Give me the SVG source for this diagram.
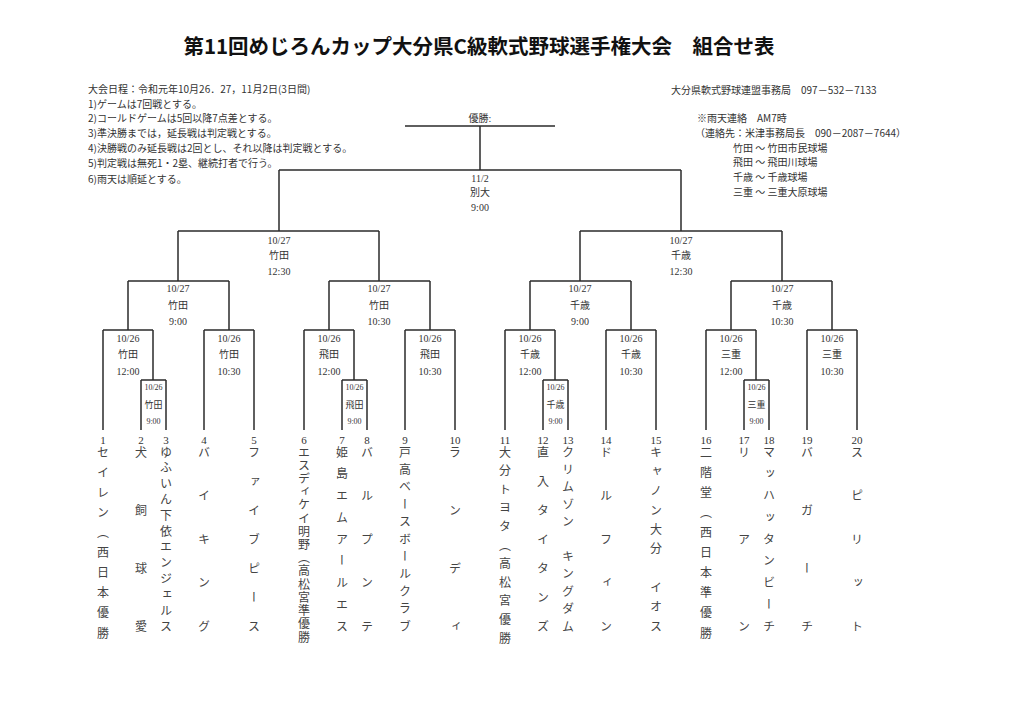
<svg xmlns="http://www.w3.org/2000/svg" width="1024" height="724" viewBox="0 0 1024 724">
<style>
.ln{stroke:#2b2b2b;stroke-width:1.5;fill:none}
.lb{font-family:"Liberation Serif","Noto Sans CJK JP",serif;font-size:10px;fill:#333;text-anchor:middle}
.ls{font-size:8px}
.lv{font-size:9px}
.nt{font-family:"Noto Sans CJK JP",sans-serif;font-size:10px;fill:#333}
.num{font-family:"Liberation Serif",serif;font-size:11px;fill:#333;text-anchor:middle}
.tm{font-family:"Noto Sans CJK JP",sans-serif;font-size:12px;fill:#444;writing-mode:vertical-rl;text-anchor:middle}
.ttl{font-family:"Noto Sans CJK JP",sans-serif;font-size:20.5px;font-weight:700;fill:#111;text-anchor:middle}
</style>
<rect width="1024" height="724" fill="#fff"/>
<g id="title"><text class="ttl" x="479" y="54">第11回めじろんカップ大分県C級軟式野球選手権大会　組合せ表</text></g>
<g id="notes-left" class="nt">
<text x="88" y="93">大会日程：令和元年10月26．27，11月2日(3日間)</text>
<text x="88" y="108">1)ゲームは7回戦とする。</text>
<text x="88" y="122">2)コールドゲームは5回以降7点差とする。</text>
<text x="88" y="137">3)準決勝までは，延長戦は判定戦とする。</text>
<text x="88" y="152">4)決勝戦のみ延長戦は2回とし、それ以降は判定戦とする。</text>
<text x="88" y="167">5)判定戦は無死1・2塁、継続打者で行う。</text>
<text x="88" y="183">6)雨天は順延とする。</text>
</g>
<g id="notes-right" class="nt">
<text x="671" y="94">大分県軟式野球連盟事務局　097－532－7133</text>
<text x="697" y="122">※雨天連絡　AM7時</text>
<text x="695" y="137">（連絡先：米津事務局長　090－2087－7644）</text>
<text x="733" y="152">竹田 ～ 竹田市民球場</text>
<text x="733" y="166">飛田 ～ 飛田川球場</text>
<text x="733" y="181">千歳 ～ 千歳球場</text>
<text x="733" y="196">三重 ～ 三重大原球場</text>
</g>
<g id="connectors" class="ln">
<path d="M405,126H555M480,126V170M279,170H681M279,170V231M681,170V231"/>
<path d="M178,231H379M580,231H782M178,231V281M379,231V281M580,231V281M782,231V281"/>
<path d="M128,281H229M329,281H430M530,281H631M731,281H832"/>
<path d="M128,281V330M229,281V330M329,281V330M430,281V330M530,281V330M631,281V330M731,281V330M832,281V330"/>
<path d="M103,330H153M204,330H254M304,330H354M405,330H455M505,330H555M606,330H656M706,330H756M807,330H857"/>
<path d="M103,330V430M204,330V430M254,330V430M304,330V430M405,330V430M455,330V430M505,330V430M606,330V430M656,330V430M706,330V430M807,330V430M857,330V430"/>
<path d="M153,330V380M354,330V380M555,330V380M756,330V380"/>
<path d="M141,380H166M342,380H367M543,380H568M744,380H769"/>
<path d="M141,380V430M166,380V430M342,380V430M367,380V430M543,380V430M568,380V430M744,380V430M769,380V430"/>
</g>
<g id="winner"><text class="lb" x="480" y="122">優勝:</text></g>
<g id="m-final" class="lb"><text x="480" y="181.5">11/2</text><text x="480" y="196">別大</text><text x="480" y="211">9:00</text></g>
<g id="m-sf1" class="lb"><text x="279" y="243.5">10/27</text><text x="279" y="259">竹田</text><text x="279" y="275">12:30</text></g>
<g id="m-sf2" class="lb"><text x="681" y="243.5">10/27</text><text x="681" y="259">千歳</text><text x="681" y="275">12:30</text></g>
<g id="m-qf1" class="lb"><text x="178" y="291.5">10/27</text><text x="178" y="308.5">竹田</text><text x="178" y="324.5">9:00</text></g>
<g id="m-qf2" class="lb"><text x="379" y="291.5">10/27</text><text x="379" y="308.5">竹田</text><text x="379" y="324.5">10:30</text></g>
<g id="m-qf3" class="lb"><text x="580" y="291.5">10/27</text><text x="580" y="308.5">千歳</text><text x="580" y="324.5">9:00</text></g>
<g id="m-qf4" class="lb"><text x="782" y="291.5">10/27</text><text x="782" y="308.5">千歳</text><text x="782" y="324.5">10:30</text></g>
<g id="m-r2-1" class="lb"><text x="128" y="341.5">10/26</text><text x="128" y="357.5">竹田</text><text x="128" y="374.5">12:00</text></g>
<g id="m-r2-2" class="lb"><text x="229" y="341.5">10/26</text><text x="229" y="357.5">竹田</text><text x="229" y="374.5">10:30</text></g>
<g id="m-r2-3" class="lb"><text x="329" y="341.5">10/26</text><text x="329" y="357.5">飛田</text><text x="329" y="374.5">12:00</text></g>
<g id="m-r2-4" class="lb"><text x="430" y="341.5">10/26</text><text x="430" y="357.5">飛田</text><text x="430" y="374.5">10:30</text></g>
<g id="m-r2-5" class="lb"><text x="530" y="341.5">10/26</text><text x="530" y="357.5">千歳</text><text x="530" y="374.5">12:00</text></g>
<g id="m-r2-6" class="lb"><text x="631" y="341.5">10/26</text><text x="631" y="357.5">千歳</text><text x="631" y="374.5">10:30</text></g>
<g id="m-r2-7" class="lb"><text x="731" y="341.5">10/26</text><text x="731" y="357.5">三重</text><text x="731" y="374.5">12:00</text></g>
<g id="m-r2-8" class="lb"><text x="832" y="341.5">10/26</text><text x="832" y="357.5">三重</text><text x="832" y="374.5">10:30</text></g>
<g id="m-r1-1" class="lb"><text class="ls" x="153.5" y="390">10/26</text><text class="lv" x="153.5" y="408">竹田</text><text class="ls" x="153.5" y="424">9:00</text></g>
<g id="m-r1-2" class="lb"><text class="ls" x="354.5" y="390">10/26</text><text class="lv" x="354.5" y="408">飛田</text><text class="ls" x="354.5" y="424">9:00</text></g>
<g id="m-r1-3" class="lb"><text class="ls" x="555.5" y="390">10/26</text><text class="lv" x="555.5" y="408">千歳</text><text class="ls" x="555.5" y="424">9:00</text></g>
<g id="m-r1-4" class="lb"><text class="ls" x="756.5" y="390">10/26</text><text class="lv" x="756.5" y="408">三重</text><text class="ls" x="756.5" y="424">9:00</text></g>
<g id="t1"><text class="num" x="103" y="444">1</text><text class="tm" x="103" y="452 472.1 492.2 512.3 532.4 552.6 572.7 592.8 612.9 633">セイレン（西日本優勝</text></g>
<g id="t2"><text class="num" x="141" y="444">2</text><text class="tm" x="141" y="452 510 568 626">犬飼球愛</text></g>
<g id="t3"><text class="num" x="166" y="444">3</text><text class="tm" x="166" y="452 467.8 483.6 499.5 515.3 531.1 546.9 562.7 578.5 594.4 610.2 626">ゆふいん下依エンジェルス</text></g>
<g id="t4"><text class="num" x="204" y="444">4</text><text class="tm" x="204" y="452 495.5 539 582.5 626">バイキング</text></g>
<g id="t5"><text class="num" x="254" y="444">5</text><text class="tm" x="254" y="452 481 510 539 568 597 626">ファイブピース</text></g>
<g id="t6"><text class="num" x="304" y="444">6</text><text class="tm" x="304" y="452 465.2 478.4 491.6 504.9 518.1 531.3 544.5 557.7 570.9 584.1 597.4 610.6 623.8 637">エスディケイ明野（高松宮準優勝</text></g>
<g id="t7"><text class="num" x="342" y="444">7</text><text class="tm" x="342" y="452 473.8 495.5 517.3 539 560.8 582.5 604.3 626">姫島エムアールエス</text></g>
<g id="t8"><text class="num" x="367" y="444">8</text><text class="tm" x="367" y="452 495.5 539 582.5 626">バルプンテ</text></g>
<g id="t9"><text class="num" x="405" y="444">9</text><text class="tm" x="405" y="452 469.4 486.8 504.2 521.6 539 556.4 573.8 591.2 608.6 626">戸高ベースボールクラブ</text></g>
<g id="t10"><text class="num" x="455" y="444">10</text><text class="tm" x="455" y="452 510 568 626">ランディ</text></g>
<g id="t11"><text class="num" x="505" y="444">11</text><text class="tm" x="505" y="452 470.6 489.2 507.8 526.4 545 563.6 582.2 600.8 619.4 638">大分トヨタ（高松宮優勝</text></g>
<g id="t12"><text class="num" x="543" y="444">12</text><text class="tm" x="543" y="452 481 510 539 568 597 626">直入タイタンズ</text></g>
<g id="t13"><text class="num" x="568" y="444">13</text><text class="tm" x="568" y="452 469.4 486.8 504.2 521.6 539 556.4 573.8 591.2 608.6 626">クリムゾン　キングダム</text></g>
<g id="t14"><text class="num" x="606" y="444">14</text><text class="tm" x="606" y="452 495.5 539 582.5 626">ドルフィン</text></g>
<g id="t15"><text class="num" x="656" y="444">15</text><text class="tm" x="656" y="452 471.3 490.7 510 529.3 548.7 568 587.3 606.7 626">キャノン大分　イオス</text></g>
<g id="t16"><text class="num" x="706" y="444">16</text><text class="tm" x="706" y="452 472.1 492.2 512.3 532.4 552.6 572.7 592.8 612.9 633">二階堂（西日本準優勝</text></g>
<g id="t17"><text class="num" x="744" y="444">17</text><text class="tm" x="744" y="452 539 626">リアン</text></g>
<g id="t18"><text class="num" x="769" y="444">18</text><text class="tm" x="769" y="452 473.8 495.5 517.3 539 560.8 582.5 604.3 626">マッハッタンビーチ</text></g>
<g id="t19"><text class="num" x="807" y="444">19</text><text class="tm" x="807" y="452 510 568 626">バガーチ</text></g>
<g id="t20"><text class="num" x="857" y="444">20</text><text class="tm" x="857" y="452 495.5 539 582.5 626">スピリット</text></g>
</svg>
